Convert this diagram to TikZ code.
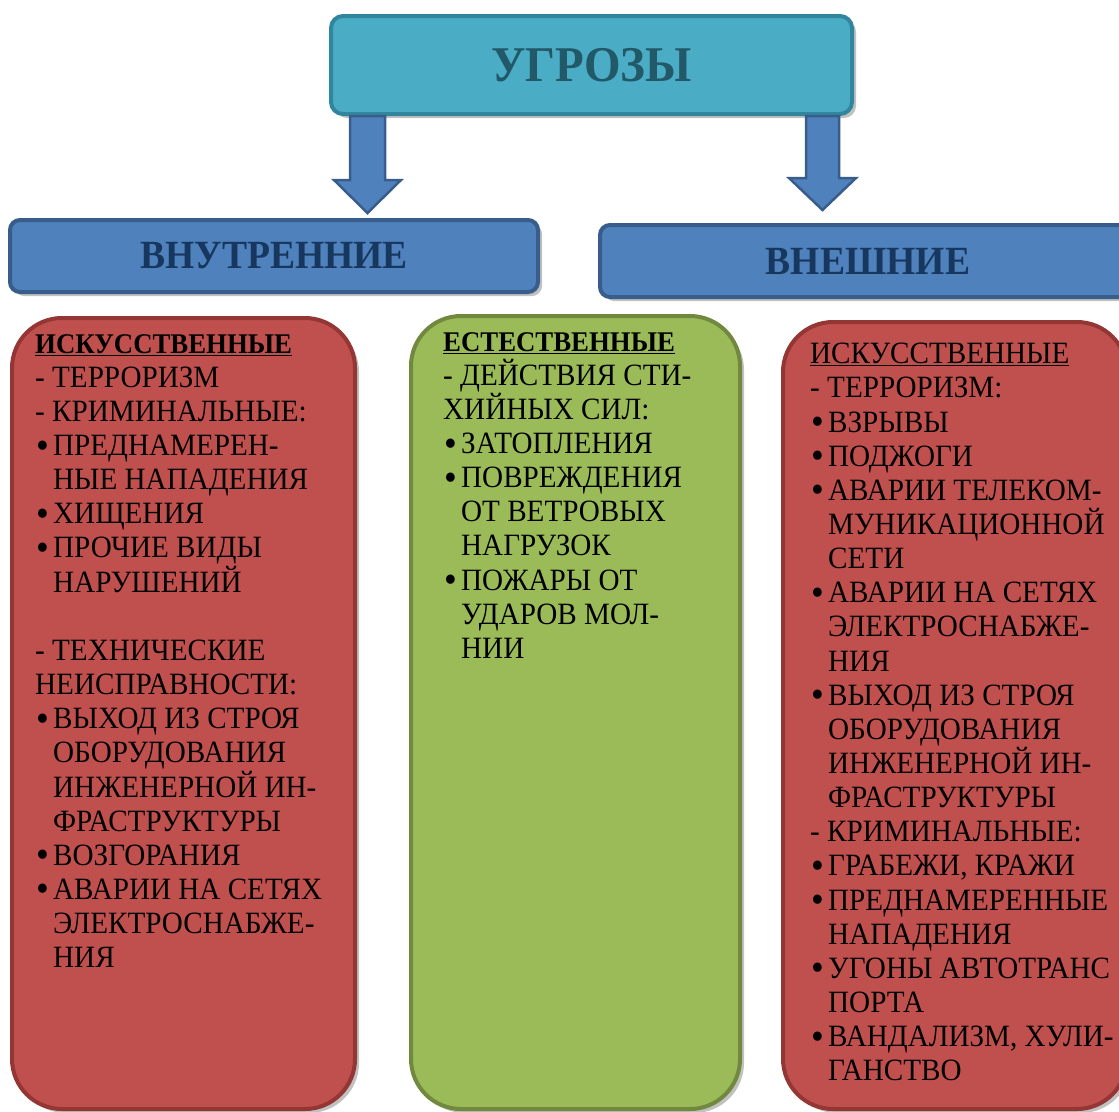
\documentclass[tikz,border=0pt]{standalone}
\usepackage{fontspec}
\setmainfont{Liberation Serif}[FakeStretch=0.94]
\usetikzlibrary{shadows}

\definecolor{tealfill}{HTML}{4BACC6}
\definecolor{tealline}{HTML}{31859C}
\definecolor{tealtext}{HTML}{215968}
\definecolor{bluefill}{HTML}{4F81BD}
\definecolor{blueline}{HTML}{385D8A}
\definecolor{bluetext}{HTML}{17375E}
\definecolor{redfill}{HTML}{C0504D}
\definecolor{redline}{HTML}{943634}
\definecolor{greenfill}{HTML}{9BBB59}
\definecolor{greenline}{HTML}{71893F}

\newcommand{\colfont}{\fontsize{31}{34.15}\selectfont}
\newcommand{\colhead}[1]{{\fontsize{28.5}{34.15}\selectfont\bfseries\underline{#1}}}
\newcommand{\bitem}[1]{\makebox[18pt][l]{\hspace{1pt}\raisebox{-2.5pt}{\scalebox{1.25}{\textbullet}}}#1}
\newcommand{\bcont}[1]{\hspace*{18pt}#1}

\begin{document}
\begin{tikzpicture}[x=1pt,y=-1pt,
  shade/.style={drop shadow={shadow xshift=4pt,shadow yshift=-4pt,opacity=.35,fill=black!70}},
  head/.style={draw=tealline,fill=tealfill,line width=4pt,rounded corners=12pt,shade,
    font=\fontsize{50}{56}\selectfont\bfseries,text=tealtext},
  group/.style={draw=blueline,fill=bluefill,line width=4pt,rounded corners=10pt,shade,
    minimum height=72pt,font=\fontsize{40}{44}\selectfont\bfseries,text=bluetext},
  column/.style={line width=4pt,rounded corners=50pt,shade},
  barrow/.style={draw=blueline,fill=bluefill,line width=2.5pt,line join=miter},
  coltext/.style={anchor=north west,inner sep=0pt,align=left,font=\colfont}]
\useasboundingbox (0,0) rectangle (1119,1111);

% top level
\node[head,minimum width=521pt,minimum height=98pt] (top) at (591.5,65) {УГРОЗЫ};

% arrows to the two groups
\draw[barrow] ([xshift=-241.5pt]top.south) -- ++(0,64) -- ++(-16,0) -- ++(33.5,33)
  -- ++(33.5,-33) -- ++(-16,0) -- ++(0,-64) -- cycle;
\draw[barrow] ([xshift=214.5pt]top.south) -- ++(0,62) -- ++(-17,0) -- ++(33.5,32)
  -- ++(33.5,-32) -- ++(-17,0) -- ++(0,-62) -- cycle;

% groups
\node[group,minimum width=528pt] (inner) at (274,256) {ВНУТРЕННИЕ};
\node[group,minimum width=536pt] (outer) at (868,261) {ВНЕШНИЕ};

% columns
\node[column,draw=redline,fill=redfill,minimum width=343pt,minimum height=791pt] (lbox) at (183.5,713.5) {};
\node[column,draw=greenline,fill=greenfill,minimum width=329pt,minimum height=793pt] (gbox) at (575.5,712.5) {};
\node[column,draw=redline,fill=redfill,minimum width=344pt,minimum height=787pt] (rbox) at (955,715.5) {};

\node[coltext] (ltext) at ([shift={(25,18)}]lbox.north west) {%
\colhead{ИСКУССТВЕННЫЕ}\\
- ТЕРРОРИЗМ\\
- КРИМИНАЛЬНЫЕ:\\
\bitem{ПРЕДНАМЕРЕН-}\\
\bcont{НЫЕ НАПАДЕНИЯ}\\
\bitem{ХИЩЕНИЯ}\\
\bitem{ПРОЧИЕ ВИДЫ}\\
\bcont{НАРУШЕНИЙ}\\[34.15pt]
- ТЕХНИЧЕСКИЕ\\
НЕИСПРАВНОСТИ:\\
\bitem{ВЫХОД ИЗ СТРОЯ}\\
\bcont{ОБОРУДОВАНИЯ}\\
\bcont{ИНЖЕНЕРНОЙ ИН-}\\
\bcont{ФРАСТРУКТУРЫ}\\
\bitem{ВОЗГОРАНИЯ}\\
\bitem{АВАРИИ НА СЕТЯХ}\\
\bcont{ЭЛЕКТРОСНАБЖЕ-}\\
\bcont{НИЯ}};

\node[coltext] (gtext) at ([shift={(34,18)}]gbox.north west) {%
\colhead{ЕСТЕСТВЕННЫЕ}\\
- ДЕЙСТВИЯ СТИ-\\
ХИЙНЫХ СИЛ:\\
\bitem{ЗАТОПЛЕНИЯ}\\
\bitem{ПОВРЕЖДЕНИЯ}\\
\bcont{ОТ ВЕТРОВЫХ}\\
\bcont{НАГРУЗОК}\\
\bitem{ПОЖАРЫ ОТ}\\
\bcont{УДАРОВ МОЛ-}\\
\bcont{НИИ}};

\node[coltext] (rtext) at ([shift={(29,23)}]rbox.north west) {%
\underline{ИСКУССТВЕННЫЕ}\\
- ТЕРРОРИЗМ:\\
\bitem{ВЗРЫВЫ}\\
\bitem{ПОДЖОГИ}\\
\bitem{АВАРИИ ТЕЛЕКОМ-}\\
\bcont{МУНИКАЦИОННОЙ}\\
\bcont{СЕТИ}\\
\bitem{АВАРИИ НА СЕТЯХ}\\
\bcont{ЭЛЕКТРОСНАБЖЕ-}\\
\bcont{НИЯ}\\
\bitem{ВЫХОД ИЗ СТРОЯ}\\
\bcont{ОБОРУДОВАНИЯ}\\
\bcont{ИНЖЕНЕРНОЙ ИН-}\\
\bcont{ФРАСТРУКТУРЫ}\\
- КРИМИНАЛЬНЫЕ:\\
\bitem{ГРАБЕЖИ, КРАЖИ}\\
\bitem{ПРЕДНАМЕРЕННЫЕ}\\
\bcont{НАПАДЕНИЯ}\\
\bitem{УГОНЫ АВТОТРАНС}\\
\bcont{ПОРТА}\\
\bitem{ВАНДАЛИЗМ, ХУЛИ-}\\
\bcont{ГАНСТВО}};
\end{tikzpicture}
\end{document}
